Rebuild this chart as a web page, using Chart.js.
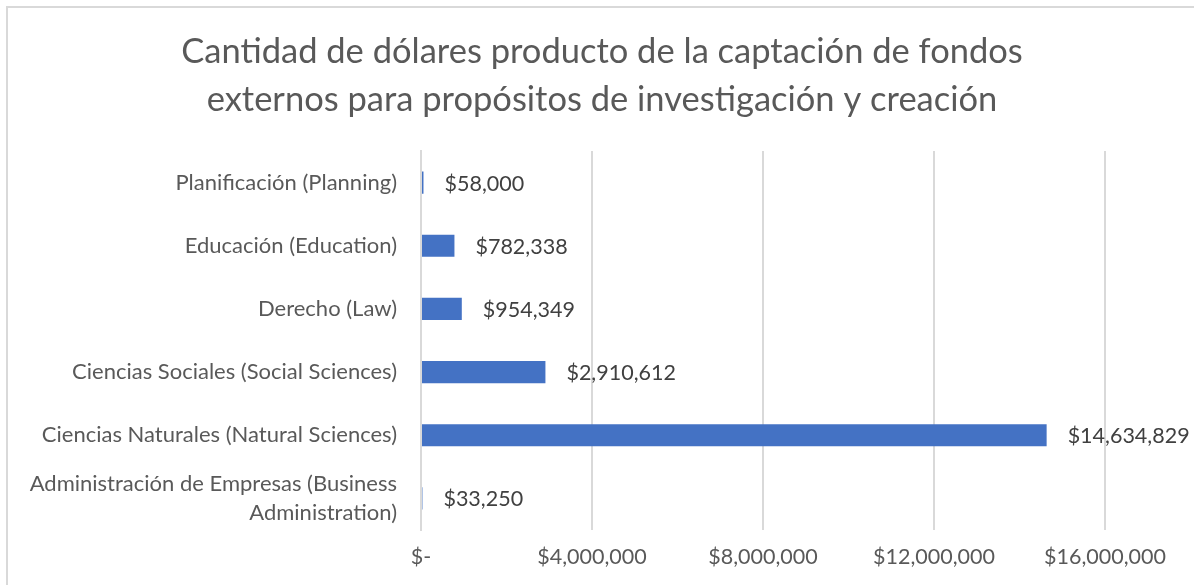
<!DOCTYPE html>
<html>
<head>
<meta charset="utf-8">
<script src="https://cdn.jsdelivr.net/npm/chart.js@4"></script>
<style>
  html, body { margin: 0; padding: 0; background: #fff; overflow: hidden; }
  #wrap { position: absolute; left: 0; top: 0; width: 1194px; height: 585px; }
  #frame { position: absolute; left: 6px; top: 6px; width: 1200px; height: 600px;
           border-top: 2px solid #d9d9d9; border-left: 2px solid #d9d9d9; pointer-events: none; }
</style>
</head>
<body>
<div id="wrap">
  <canvas id="myChart" width="1194" height="585"></canvas>
  <div id="frame"></div>
</div>
<script>
const titleLines = [
  'Cantidad de dólares producto de la captación de fondos',
  'externos para propósitos de investigación y creación'
]
const categories = [
  'Planificación (Planning)',
  'Educación (Education)',
  'Derecho (Law)',
  'Ciencias Sociales (Social Sciences)',
  'Ciencias Naturales (Natural Sciences)',
  ['Administración de Empresas (Business', 'Administration)']
]
const dollars = [58000, 782338, 954349, 2910612, 14634829, 33250]
const tickValues = [0, 4000000, 8000000, 12000000, 16000000]

const fontFamily = 'Lato, "Open Sans", sans-serif'
const textGray = '#595959'

const money = (v) => v === 0 ? '$-' : '$' + v.toLocaleString('en-US')

// title drawn over the whole canvas width (chart.js would center it on the padded box)
const centeredTitle = {
  id: 'centeredTitle',
  afterDraw(chart) {
    const ctx = chart.ctx
    ctx.save()
    ctx.font = '34.5px ' + fontFamily
    ctx.fillStyle = textGray
    ctx.textAlign = 'center'
    ctx.textBaseline = 'middle'
    titleLines.forEach((line, i) => ctx.fillText(line, 602, 52 + i * 48))
    ctx.restore()
  }
}

// draws the value next to the end of every bar
const valueLabels = {
  id: 'valueLabels',
  afterDatasetsDraw(chart) {
    const ctx = chart.ctx
    const meta = chart.getDatasetMeta(0)
    ctx.save()
    ctx.font = '21.5px ' + fontFamily
    ctx.fillStyle = '#404040'
    ctx.textAlign = 'left'
    ctx.textBaseline = 'middle'
    meta.data.forEach((bar, i) => {
      ctx.fillText(money(dollars[i]), bar.x + 21, bar.y + 1)
    })
    ctx.restore()
  }
}

const ctx = document.getElementById('myChart')
new Chart(ctx, {
  type: 'bar',
  data: {
    labels: categories,
    datasets: [{
      data: dollars,
      backgroundColor: '#4472C4',
      borderWidth: 0,
      categoryPercentage: 1,
      barPercentage: 0.35
    }]
  },
  options: {
    indexAxis: 'y',
    responsive: false,
    animation: false,
    layout: { padding: { left: 10, right: 89, top: 151, bottom: 0 } },
    plugins: {
      legend: { display: false },
      tooltip: { enabled: false },
      title: { display: false }
    },
    scales: {
      x: {
        min: 0,
        max: 16000000,
        afterBuildTicks(scale) {
          scale.ticks = tickValues.map(v => ({ value: v }))
        },
        afterFit(scale) { scale.height = 55 },
        ticks: {
          callback: (v) => money(v),
          color: textGray,
          font: { family: fontFamily, size: 21.5 },
          padding: 14,
          maxRotation: 0
        },
        grid: { color: '#d9d9d9', lineWidth: 2, drawTicks: false },
        border: { display: false }
      },
      y: {
        afterFit(scale) { scale.width = 411 },
        ticks: {
          color: textGray,
          font: { family: fontFamily, size: 22, lineHeight: 1.3 },
          padding: 24
        },
        grid: { display: false, drawTicks: false },
        border: { display: true, color: '#d9d9d9', width: 2 }
      }
    }
  },
  plugins: [valueLabels, centeredTitle]
})
</script>
</body>
</html>
